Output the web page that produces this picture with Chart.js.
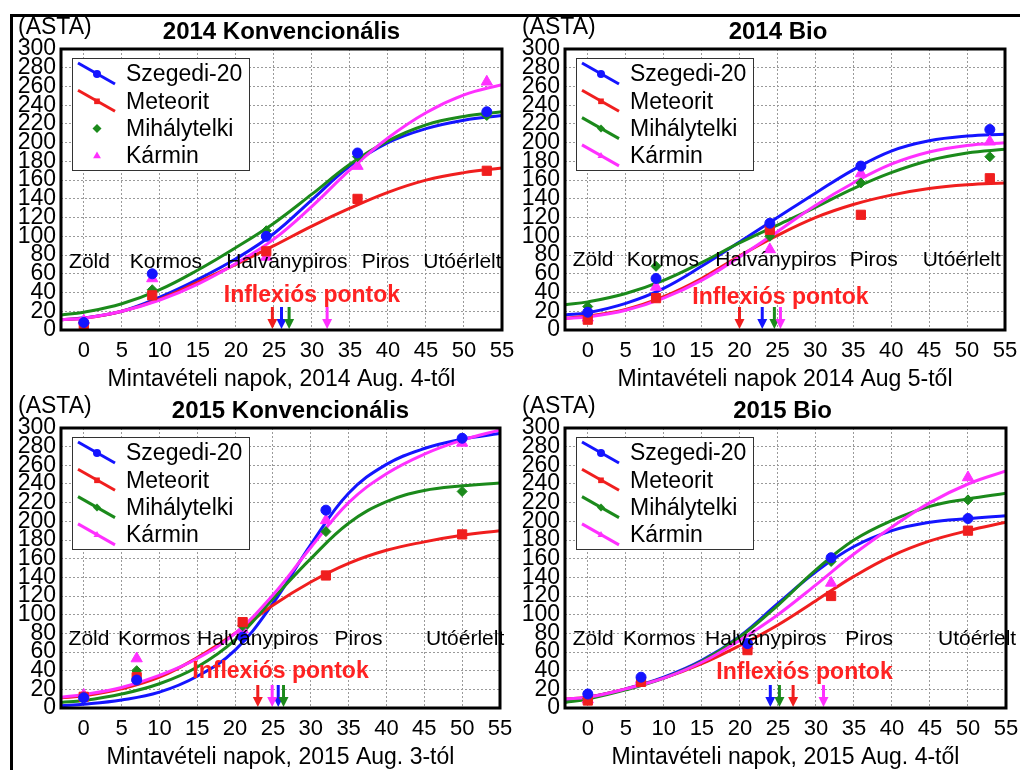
<!DOCTYPE html>
<html>
<head>
<meta charset="utf-8">
<script src="https://cdn.jsdelivr.net/npm/chart.js@4.4.1/dist/chart.umd.min.js"></script>
<style>
    body { margin: 0; background: #fff; width: 1020px; height: 770px; overflow: hidden; position: relative; }
    canvas { position: absolute; }
    .frame { position: absolute; background: #000; z-index: 5; }
</style>
</head>
<body>
<div class="frame" style="left:10px;top:14px;width:1010px;height:3px"></div>
<div class="frame" style="left:10px;top:14px;width:3px;height:756px"></div>
<canvas id="c1" width="530" height="395" style="left:0;top:0"></canvas>
<canvas id="c2" width="510" height="395" style="left:510px;top:0"></canvas>
<canvas id="c3" width="530" height="385" style="left:0;top:385px"></canvas>
<canvas id="c4" width="510" height="385" style="left:510px;top:385px"></canvas>
<script>
// Axis ticks
const xTickValues = [0, 5, 10, 15, 20, 25, 30, 35, 40, 45, 50, 55];
const yTickValues = [0, 20, 40, 60, 80, 100, 120, 140, 160, 180, 200, 220, 240, 260, 280, 300];

// Series
const seriesNames = ['Szegedi-20', 'Meteorit', 'Mihálytelki', 'Kármin'];
const stageNames = ['Zöld', 'Kormos', 'Halványpiros', 'Piros', 'Utóérlelt'];

const curveDays = [-3, 0, 5, 10, 15, 20, 25, 30, 35, 40, 45, 50, 55];
// Sampling days
const sampleDays2014 = [0, 9, 24, 36, 53];
const sampleDays2015 = [0, 7, 21, 32, 50];

// 2014 Konvencionális
const konv14Szegedi = [8, 60, 100, 189, 233];
const konv14Meteorit = [5, 37, 84, 140, 170];
const konv14Mihaly = [8, 43, 106, 185, 229];
const konv14Karmin = [10, 55, 78, 175, 265];
const konv14SzegediFit = [11, 13, 20, 35, 54, 76, 103, 139, 175, 200, 215, 224, 229];
const konv14MeteoritFit = [11, 12.5, 20, 33, 51, 70, 90, 111, 130, 147, 160, 168, 173];
const konv14MihalyFit = [16, 19, 28, 43, 64, 88, 114, 145, 177, 202, 219, 228, 233];
const konv14KarminFit = [11, 12.5, 20, 32, 49, 71, 97, 132, 171, 205, 232, 251, 262];
const konv14Inflex = [26, 24.8, 27, 32];

// 2014 Bio
const bio14Szegedi = [19, 55, 114, 175, 214];
const bio14Meteorit = [11, 34, 107, 123, 162];
const bio14Mihaly = [25, 68, 100, 157, 185];
const bio14Karmin = [13, 46, 86, 167, 201];
const bio14SzegediFit = [16, 18.5, 28.5, 44.5, 68, 94, 120, 146, 171, 191, 202, 207, 209];
const bio14MeteoritFit = [12.5, 15, 22, 35.6, 55, 79, 101, 120, 134, 144, 151, 155, 157];
const bio14MihalyFit = [27, 30, 39, 53, 72, 93, 112, 131, 151, 168, 181, 189, 193];
const bio14KarminFit = [12.5, 14, 21, 34, 53, 78, 105, 133, 157, 177, 190, 197, 200];
const bio14Inflex = [23, 20, 24.6, 25.4];

// 2015 Konvencionális
const konv15Szegedi = [11, 30, 76, 212, 289];
const konv15Meteorit = [12, 33, 92, 142, 186];
const konv15Mihaly = [12, 40, 88, 189, 232];
const konv15Karmin = [14, 53, 84, 201, 284];
const konv15SzegediFit = [2.5, 4, 8.6, 17, 34, 62, 112, 175, 230, 261, 278, 288, 294];
const konv15MeteoritFit = [11, 13, 20.5, 33, 54, 80, 110, 135, 155, 169, 178, 185, 190];
const konv15MihalyFit = [6, 8, 15, 26, 44, 73, 117, 160, 198, 221, 233, 238, 241];
const konv15KarminFit = [11.5, 14.4, 22, 35, 53, 80, 121, 172, 220, 251, 272, 287, 298];
const konv15Inflex = [25.7, 23, 26.4, 24.9];

// 2015 Bio
const bio15Szegedi = [15, 33, 69, 161, 203];
const bio15Meteorit = [8, 28, 62, 120, 190];
const bio15Mihaly = [10, 28, 68, 157, 223];
const bio15Karmin = [9, 30, 67, 134, 247];
const bio15SzegediFit = [8, 11.5, 20.5, 33, 51, 77, 112, 146, 173, 190, 199, 203, 206];
const bio15MeteoritFit = [9.7, 11.5, 20.5, 32, 47.5, 67, 89, 115, 141, 163, 179, 190, 199];
const bio15MihalyFit = [6, 9.7, 19.4, 32, 50, 76, 110, 148, 180, 201, 216, 224, 230];
const bio15KarminFit = [9.7, 11.5, 20.5, 32, 49, 72.7, 100, 132, 165, 194, 220, 240, 254];
const bio15Inflex = [24, 27, 25.2, 31];

// Styles
const fontFamily = "'Liberation Sans', Arial, Helvetica, sans-serif";
const seriesColors = ['#1414ff', '#f01e1e', '#1b8a1b', '#ff30ff'];
const seriesMarkers = ['circle', 'rect', 'rectRot', 'triangle'];
const markerSizes = [5, 6.5, 5, 6.5];

function drawMarker(ctx, style, x, y, r, color) {
    ctx.fillStyle = color;
    ctx.beginPath();
    if (style === 'circle') {
        ctx.arc(x, y, r, 0, Math.PI * 2);
    } else if (style === 'rect') {
        const s = r * Math.SQRT1_2;
        ctx.rect(x - s, y - s, 2 * s, 2 * s);
    } else if (style === 'rectRot') {
        ctx.moveTo(x, y - r); ctx.lineTo(x + r, y); ctx.lineTo(x, y + r); ctx.lineTo(x - r, y);
    } else {
        ctx.moveTo(x, y - r); ctx.lineTo(x + r * 0.87, y + r * 0.5); ctx.lineTo(x - r * 0.87, y + r * 0.5);
    }
    ctx.closePath();
    ctx.fill();
}

function drawArrow(ctx, x, bottom, color) {
    ctx.strokeStyle = color;
    ctx.fillStyle = color;
    ctx.lineWidth = 3;
    ctx.beginPath();
    ctx.moveTo(x, bottom - 23);
    ctx.lineTo(x, bottom - 9);
    ctx.stroke();
    ctx.beginPath();
    ctx.moveTo(x - 5, bottom - 11);
    ctx.lineTo(x + 5, bottom - 11);
    ctx.lineTo(x, bottom - 1);
    ctx.closePath();
    ctx.fill();
}

function makePanel(canvasId, p) {
    const datasets = [];
    p.points.forEach((vals, s) => {
        datasets.push({
            data: p.days.map((d, i) => ({ x: d, y: vals[i] })),
            showLine: false,
            pointStyle: seriesMarkers[s],
            pointRadius: markerSizes[s],
            pointBackgroundColor: seriesColors[s],
            pointBorderColor: seriesColors[s],
            pointBorderWidth: 1,
            order: 0
        });
    });
    p.fits.forEach((vals, s) => {
        datasets.push({
            data: curveDays.map((d, i) => ({ x: d, y: vals[i] })),
            showLine: true,
            borderColor: seriesColors[s],
            borderWidth: 3,
            pointRadius: 0,
            tension: 0.4,
            order: 1 + (3 - s)
        });
    });

    const deco = {
        id: 'deco',
        afterDatasetsDraw(chart) {
            const { ctx, chartArea: a, scales: { x, y } } = chart;
            ctx.save();
            ctx.textAlign = 'center';
            ctx.textBaseline = 'middle';
            // ripening stages
            ctx.font = '21px ' + fontFamily;
            ctx.fillStyle = '#000';
            stageNames.forEach((n, i) => {
                ctx.fillText(n, x.getPixelForValue(p.stageX[i]), y.getPixelForValue(p.stageY));
            });
            // inflection label + arrows
            ctx.font = 'bold 23px ' + fontFamily;
            ctx.fillStyle = '#ff2222';
            ctx.fillText('Inflexiós pontok', x.getPixelForValue(p.inflexLabel[0]), y.getPixelForValue(p.inflexLabel[1]));
            p.inflex.forEach((v, i) => drawArrow(ctx, x.getPixelForValue(v), a.bottom, seriesColors[i]));
            // plot frame
            ctx.lineWidth = 3;
            ctx.strokeStyle = '#000';
            ctx.strokeRect(a.left, a.top, a.right - a.left, a.bottom - a.top);
            // legend
            const bx = a.left + 11, by = a.top + 9;
            ctx.fillStyle = '#fff';
            ctx.fillRect(bx, by, 177, 112);
            ctx.lineWidth = 1;
            ctx.strokeStyle = '#333';
            ctx.strokeRect(bx + 0.5, by + 0.5, 177, 112);
            ctx.textAlign = 'left';
            ctx.font = '23px ' + fontFamily;
            seriesNames.forEach((n, i) => {
                const ry = by + 16 + i * 27.3;
                if (p.legendLines[i]) {
                    ctx.strokeStyle = seriesColors[i];
                    ctx.lineWidth = 3;
                    ctx.beginPath();
                    ctx.moveTo(bx + 6, ry - 11);
                    ctx.lineTo(bx + 43, ry + 10);
                    ctx.stroke();
                }
                drawMarker(ctx, seriesMarkers[i], bx + 25, ry, p.legendLines[i] ? 4 : 4.5, seriesColors[i]);
                ctx.fillStyle = '#000';
                ctx.fillText(n, bx + 54, ry + 1);
            });
            ctx.restore();
        },
        afterDraw(chart) {
            const { ctx, chartArea: a } = chart;
            const cx = (a.left + a.right) / 2;
            ctx.save();
            ctx.fillStyle = '#000';
            ctx.textBaseline = 'middle';
            ctx.textAlign = 'center';
            ctx.font = 'bold 24px ' + fontFamily;
            ctx.fillText(p.title, cx + p.titleShift, a.top - 17);
            ctx.font = '23px ' + fontFamily;
            ctx.fillText(p.xTitle, cx, a.bottom + 50);
            ctx.textAlign = 'left';
            ctx.fillText('(ASTA)', a.left - 43, a.top - 21);
            ctx.restore();
        }
    };

    return new Chart(document.getElementById(canvasId), {
        type: 'scatter',
        data: { datasets },
        plugins: [deco],
        options: {
            responsive: false,
            animation: false,
            devicePixelRatio: 1,
            layout: { padding: { left: 0, top: p.padTop, right: p.padRight, bottom: 0 } },
            plugins: { legend: { display: false }, tooltip: { enabled: false } },
            scales: {
                x: {
                    type: 'linear', min: -3, max: 55,
                    afterBuildTicks: s => { s.ticks = xTickValues.map(v => ({ value: v })); },
                    afterFit: s => { s.height = p.xH; s.paddingLeft = 0; s.paddingRight = 0; },
                    grid: { color: '#9a9a9a', lineWidth: 1, drawTicks: false },
                    border: { display: false, dash: [2, 2] },
                    ticks: { color: '#000', autoSkip: false, maxRotation: 0, padding: 8,
                             font: { size: 22, family: fontFamily } }
                },
                y: {
                    type: 'linear', min: 0, max: 300,
                    afterBuildTicks: s => { s.ticks = yTickValues.map(v => ({ value: v })); },
                    afterFit: s => { s.width = p.yW; s.paddingTop = 0; s.paddingBottom = 0; },
                    grid: { color: '#9a9a9a', lineWidth: 1, drawTicks: false },
                    border: { display: false, dash: [2, 2] },
                    ticks: { color: '#000', autoSkip: false, padding: 5,
                             font: { size: 23, family: fontFamily } }
                }
            }
        }
    });
}

makePanel('c1', {
    title: '2014 Konvencionális', xTitle: 'Mintavételi napok, 2014 Aug. 4-től', titleShift: 0,
    days: sampleDays2014,
    points: [konv14Szegedi, konv14Meteorit, konv14Mihaly, konv14Karmin],
    fits: [konv14SzegediFit, konv14MeteoritFit, konv14MihalyFit, konv14KarminFit],
    inflex: konv14Inflex, inflexLabel: [30, 37],
    stageX: [0.75, 10.8, 26.7, 39.7, 49.8], stageY: 72,
    legendLines: [true, true, false, false],
    yW: 61, padTop: 49, padRight: 28, xH: 65
});
makePanel('c2', {
    title: '2014 Bio', xTitle: 'Mintavételi napok 2014 Aug 5-től', titleShift: -7,
    days: sampleDays2014,
    points: [bio14Szegedi, bio14Meteorit, bio14Mihaly, bio14Karmin],
    fits: [bio14SzegediFit, bio14MeteoritFit, bio14MihalyFit, bio14KarminFit],
    inflex: bio14Inflex, inflexLabel: [25.4, 35],
    stageX: [0.7, 9.9, 24.8, 37.7, 49.3], stageY: 75,
    legendLines: [true, true, true, true],
    yW: 55, padTop: 49, padRight: 15, xH: 65
});
makePanel('c3', {
    title: '2015 Konvencionális', xTitle: 'Mintavételi napok, 2015 Aug. 3-tól', titleShift: 10,
    days: sampleDays2015,
    points: [konv15Szegedi, konv15Meteorit, konv15Mihaly, konv15Karmin],
    fits: [konv15SzegediFit, konv15MeteoritFit, konv15MihalyFit, konv15KarminFit],
    inflex: konv15Inflex, inflexLabel: [26, 39],
    stageX: [0.7, 9.3, 23, 36.3, 50.4], stageY: 74,
    legendLines: [true, true, true, true],
    yW: 61, padTop: 43, padRight: 30, xH: 62
});
makePanel('c4', {
    title: '2015 Bio', xTitle: 'Mintavételi napok, 2015 Aug. 4-től', titleShift: -3,
    days: sampleDays2015,
    points: [bio15Szegedi, bio15Meteorit, bio15Mihaly, bio15Karmin],
    fits: [bio15SzegediFit, bio15MeteoritFit, bio15MihalyFit, bio15KarminFit],
    inflex: bio15Inflex, inflexLabel: [28.5, 38],
    stageX: [0.7, 9.4, 23.4, 37, 51.2], stageY: 74,
    legendLines: [true, true, true, true],
    yW: 55, padTop: 43, padRight: 14, xH: 62
});
</script>
</body>
</html>
